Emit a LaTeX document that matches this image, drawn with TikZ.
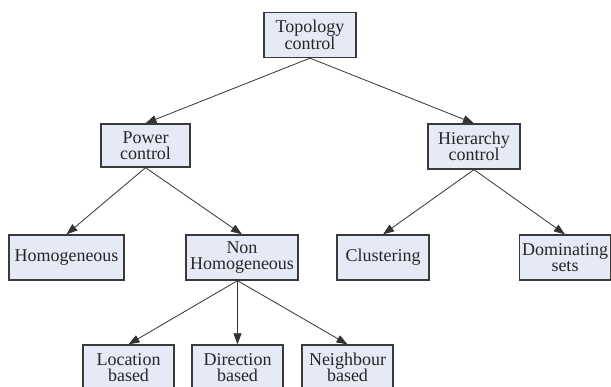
\documentclass[tikz,border=0pt]{standalone}
\usepackage{fontspec}
\setmainfont{Liberation Serif}
\usepackage{xcolor}
\usepackage{tikz}
\usetikzlibrary{arrows.meta}
\definecolor{boxfill}{HTML}{E6EAF7}
\definecolor{edge}{HTML}{3A3A3A}
\definecolor{wire}{HTML}{333333}
\tikzset{
  box/.style={draw=edge, fill=boxfill, line width=1.3pt, align=center,
    inner sep=1pt, minimum height=45pt, text=black!85,
    font=\fontsize{18}{16.5}\selectfont},
  link/.style={draw=wire, line width=0.8pt, -{Triangle[length=11pt,width=8pt]}}
}

\begin{document}
\begin{tikzpicture}[x=1pt,y=-1pt]
  \useasboundingbox (0,0) rectangle (611,387);
  \node[box,minimum width=92pt] (topo) at (310,35) {Topology\\control};
  \node[box,minimum width=89pt,minimum height=43pt] (power) at (145.5,145.5) {Power\\control};
  \node[box,minimum width=92pt] (hier) at (474,146.5) {Hierarchy\\control};
  \node[box,minimum width=115pt] (homog) at (66.5,257.5) {Homogeneous};
  \node[box,minimum width=112pt] (nonhom) at (242,257.5) {Non\\Homogeneous};
  \node[box,minimum width=92pt] (clust) at (383,257.5) {Clustering};
  \node[box,minimum width=91pt] (domin) at (565,257.5) {Dominating\\sets};
  \node[box,minimum width=91pt] (loc) at (128.5,367.5) {Location\\based};
  \node[box,minimum width=91pt] (dir) at (237.5,367.5) {Direction\\based};
  \node[box,minimum width=91pt] (neigh) at (347.5,367.5) {Neighbour\\based};
  \coordinate (fork) at (nonhom.south -| dir.north);
  % links
  \draw[link] (topo.south) -- (power.north);
  \draw[link] (topo.south) -- (hier.north);
  \draw[link] (power.south) -- (homog.north);
  \draw[link] (power.south) -- (nonhom.north);
  \draw[link] (hier.south) -- (clust.north);
  \draw[link] (hier.south) -- (domin.north);
  \draw[link] (fork) -- (loc.north);
  \draw[link] (fork) -- (dir.north);
  \draw[link] (fork) -- (neigh.north);
\end{tikzpicture}
\end{document}
